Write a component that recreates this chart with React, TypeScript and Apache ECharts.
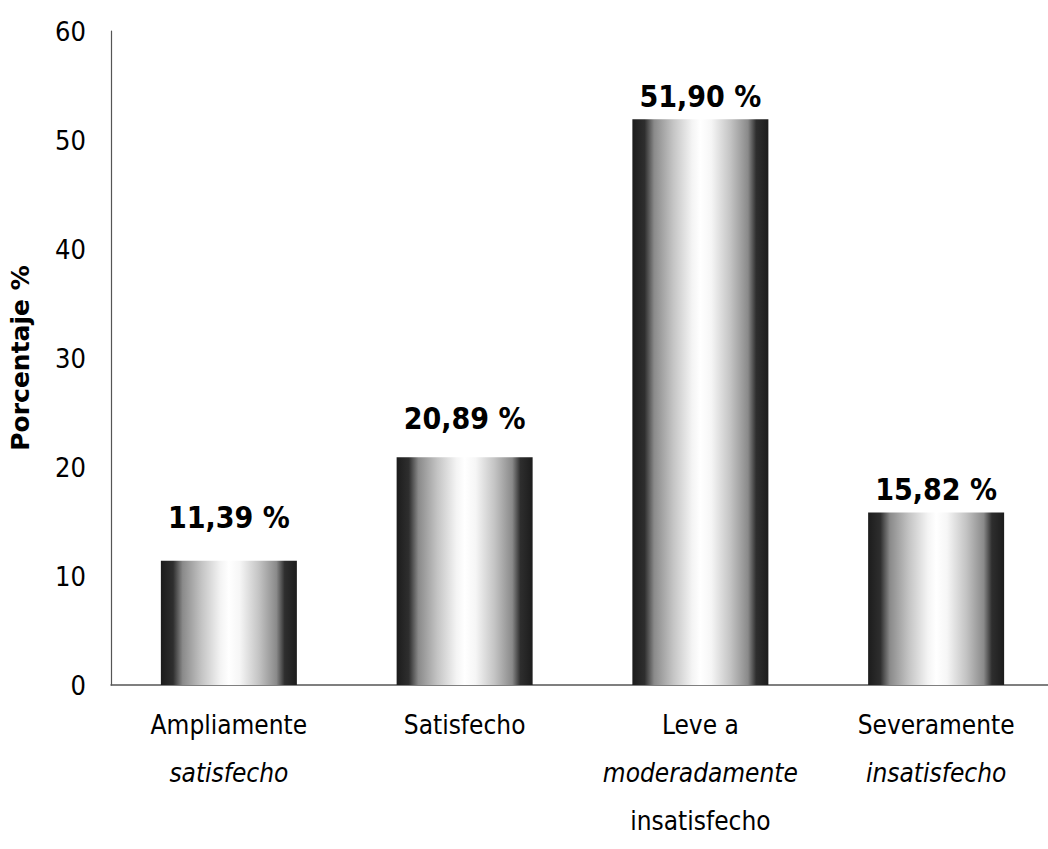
import React, { useEffect, useRef } from "react";
import * as echarts from "echarts";

const categories = [
  "Ampliamente\n{i|satisfecho}",
  "Satisfecho",
  "Leve a\n{i|moderadamente}\ninsatisfecho",
  "Severamente\n{i|insatisfecho}",
];
const values = [11.39, 20.89, 51.9, 15.82];
const labelDistances = [28, 24, 8, 8];
const yTicks = { min: 0, max: 60, interval: 10 };

const FONT = "'Liberation Sans Narrow', 'DejaVu Sans Condensed', 'Roboto Condensed', sans-serif";

export default function App() {
  const ref = useRef<HTMLDivElement>(null);
  useEffect(() => {
    if (!ref.current) return;
    const chart = echarts.init(ref.current, null, { renderer: "svg" });
    const gradient = new echarts.graphic.LinearGradient(0, 0, 1, 0, [
      { offset: 0, color: "#1c1c1c" },
      { offset: 0.09, color: "#2e2e2e" },
      { offset: 0.16, color: "#8a8a8a" },
      { offset: 0.3, color: "#c4c4c4" },
      { offset: 0.44, color: "#f4f4f4" },
      { offset: 0.5, color: "#ffffff" },
      { offset: 0.58, color: "#f6f6f6" },
      { offset: 0.72, color: "#c4c4c4" },
      { offset: 0.85, color: "#8a8a8a" },
      { offset: 0.91, color: "#2e2e2e" },
      { offset: 1, color: "#1c1c1c" },
    ]);
    chart.setOption({
      animation: false,
      backgroundColor: "#ffffff",
      grid: { left: 111, right: -6, top: 31, bottom: 164, containLabel: false, outerBoundsMode: "none" },
      xAxis: {
        type: "category",
        data: categories,
        axisLine: { show: true, lineStyle: { color: "#555", width: 1.5 } },
        axisTick: { show: false },
        axisLabel: {
          interval: 0,
          margin: 16,
          color: "#000",
          fontFamily: FONT,
          fontSize: 26,
          lineHeight: 48,
          rich: {
            i: { fontStyle: "italic", fontFamily: FONT, fontSize: 26, lineHeight: 48, color: "#000" },
          },
        },
      },
      yAxis: {
        type: "value",
        min: yTicks.min,
        max: yTicks.max,
        interval: yTicks.interval,
        name: "Porcentaje %",
        nameLocation: "middle",
        nameGap: 78,
        nameTextStyle: { fontFamily: "Verdana, 'DejaVu Sans', sans-serif", fontWeight: "bold", fontSize: 25, color: "#000" },
        axisLine: { show: true, lineStyle: { color: "#555", width: 1.2 } },
        axisTick: { show: false },
        splitLine: { show: false },
        axisLabel: { margin: 25, color: "#000", fontFamily: FONT, fontSize: 27 },
      },
      series: [
        {
          type: "bar",
          barWidth: 136,
          data: values.map((v, i) => ({
            value: v,
            label: { distance: labelDistances[i] },
          })),
          itemStyle: { color: gradient },
          label: {
            show: true,
            position: "top",
            color: "#000",
            fontFamily: FONT,
            fontWeight: "bold",
            fontSize: 30,
            formatter: (p: any) => p.value.toFixed(2).replace(".", ",") + " %",
          },
        },
      ],
    });
    return () => chart.dispose();
  }, []);
  return (
    <div
      ref={ref}
      style={{ position: "fixed", left: 0, top: 0, width: 1048, height: 849, background: "#fff" }}
    />
  );
}
